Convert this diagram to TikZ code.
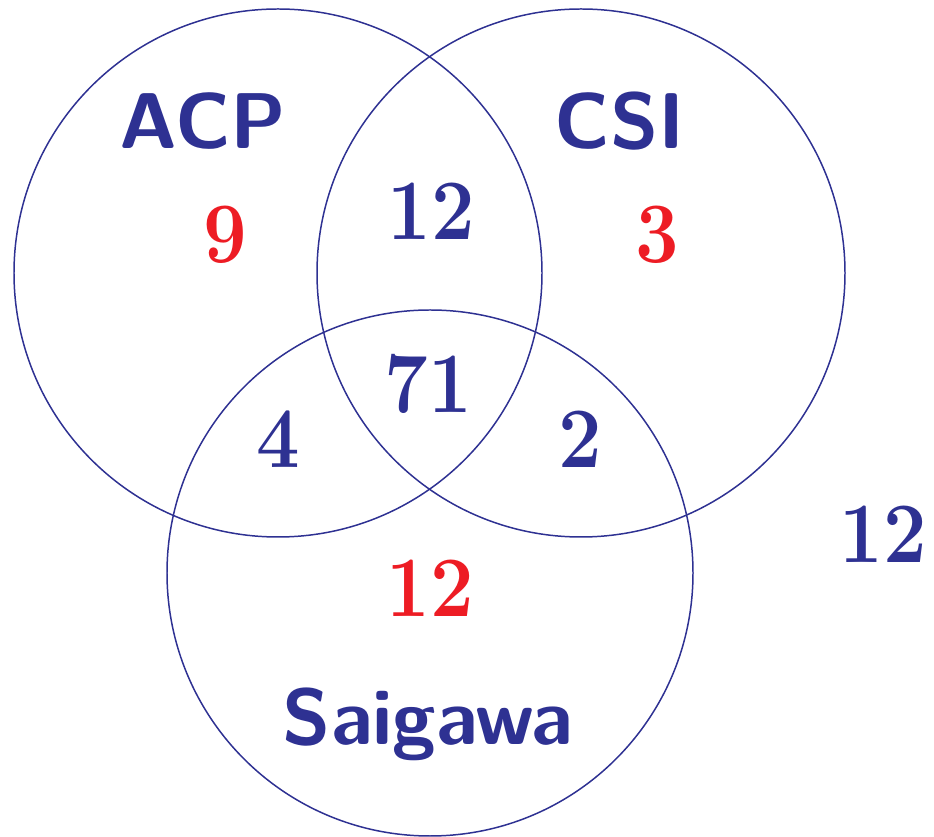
\documentclass[tikz,border=0pt]{standalone}
\usepackage{fontspec}
\newfontfamily\countfont[FakeStretch=0.9]{Latin Modern Roman}
\definecolor{vennblue}{RGB}{46,49,146}
\definecolor{vennred}{RGB}{237,28,36}
\tikzset{
  setname/.style={anchor=base, text=vennblue, font=\fontsize{45}{50}\selectfont\sffamily\bfseries},
  count/.style={anchor=base, text=vennblue, font=\fontsize{49}{54}\selectfont\countfont\bfseries},
  only/.style={count, text=vennred}
}

\begin{document}
\begin{tikzpicture}[x=0.02cm, y=-0.02cm]
    \useasboundingbox (0,0) rectangle (934,837);
    \draw[vennblue, line width=0.85pt] (278,273) circle [radius=264];
    \draw[vennblue, line width=0.85pt] (581,273) circle [radius=264];
    \draw[vennblue, line width=0.85pt] (430,573) circle [radius=263];
    \node[setname] (acp) at (203,149) {ACP};
    \node[setname] (csi) at (620,149) {CSI};
    \node[setname] (saigawa) at (428,745) {Saigawa};
    \node[only] (acponly) at (225,263) {9};
    \node[only] (csionly) at (657,263) {3};
    \node[only] (saigawaonly) at (430,617) {12};
    \node[count] (acpcsi) at (431,240) {12};
    \node[count] (all) at (428,413) {71};
    \node[count] (acpsaigawa) at (278,468) {4};
    \node[count] (csisaigawa) at (580,468) {2};
    \node[count] (none) at (883,563) {12};
\end{tikzpicture}
\end{document}
